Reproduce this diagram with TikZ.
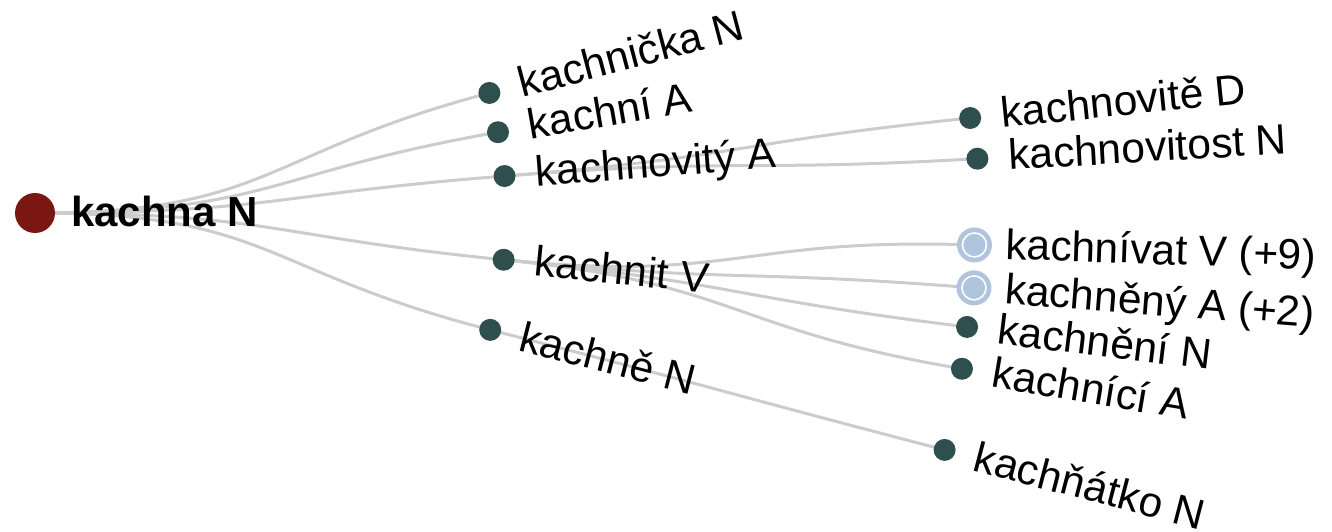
\documentclass[tikz,border=0pt]{standalone}
\usepackage{fontspec}
\setmainfont{Liberation Sans}
\usetikzlibrary{calc}
\definecolor{dotc}{HTML}{2F4F4F}
\definecolor{rootc}{HTML}{7A1712}
\definecolor{edgec}{HTML}{CCCCCC}
\definecolor{collc}{HTML}{B0C4DE}
\tikzset{
  dotnode/.style={circle, fill=dotc, minimum size=22pt, inner sep=0pt},
  rootnode/.style={circle, fill=rootc, minimum size=40pt, inner sep=0pt},
  collnode/.style={circle, fill=collc, minimum size=35pt, inner sep=0pt},
  edge/.style={draw=edgec, line width=3pt},
  lab/.style={anchor=base west, inner sep=0pt, font=\fontsize{42.5}{50}\selectfont, text=black},
}
% radial placement: name, angle (image, up positive), radius
\newcommand{\rplace}[3]{\coordinate (#1) at ($(r)+(-#2:#3)$);}
% radial link: from, to, angle from, angle to, mid radius
\newcommand{\rlink}[5]{\draw[edge] (#1) .. controls ($(r)+(-#3:#5)$) and ($(r)+(-#4:#5)$) .. (#2);}
% label: node, angle, text, name
\newcommand{\rlabel}[4]{\node[lab, rotate=#2] (#4) at ($(#1)+(-#2:31)+(90-#2:13)$) {#3};}
\begin{document}
\begin{tikzpicture}[x=1pt,y=-1pt]
\useasboundingbox (0,0) rectangle (1332,532);
\coordinate (r) at (35,213);
\rplace{c1}{14.8}{470}
\rplace{c2}{9.9}{470}
\rplace{c3}{4.5}{471}
\rplace{c4}{-5.7}{471}
\rplace{c5}{-14.4}{470}
\rplace{d1}{5.8}{940}
\rplace{d2}{3.3}{944}
\rplace{e1}{-1.95}{940}
\rplace{e2}{-4.56}{942}
\rplace{e3}{-6.97}{939}
\rplace{e4}{-9.54}{940}
\rplace{f1}{-14.6}{940}
% edges
\rlink{r}{c1}{0}{14.8}{235}
\rlink{r}{c2}{0}{9.9}{235}
\rlink{r}{c3}{0}{4.5}{235}
\rlink{r}{c4}{0}{-5.7}{235}
\rlink{r}{c5}{0}{-14.4}{235}
\rlink{c3}{d1}{4.5}{5.8}{705}
\rlink{c3}{d2}{4.5}{3.3}{705}
\rlink{c4}{e1}{-5.7}{-1.95}{705}
\rlink{c4}{e2}{-5.7}{-4.56}{705}
\rlink{c4}{e3}{-5.7}{-6.97}{705}
\rlink{c4}{e4}{-5.7}{-9.54}{705}
\rlink{c5}{f1}{-14.4}{-14.6}{705}
% nodes
\node[rootnode] (nr) at (r) {};
\foreach \n in {c1,c2,c3,c4,c5,d1,d2,e3,e4,f1} {\node[dotnode] (n\n) at (\n) {};}
\foreach \n in {e1,e2} {
  \node[collnode] (n\n) at (\n) {};
  \draw[white, line width=1.6pt] (\n) circle[radius=12pt];
}
% labels
\node[lab, font=\fontsize{42}{50}\selectfont\bfseries] (lr) at (71,226) {kachna N};
\rlabel{c1}{14.8}{kachnička N}{l1}
\rlabel{c2}{9.9}{kachní A}{l2}
\rlabel{c3}{4.5}{kachnovitý A}{l3}
\rlabel{c4}{-5.7}{kachnit V}{l4}
\rlabel{c5}{-14.4}{kachně N}{l5}
\rlabel{d1}{5.8}{kachnovitě D}{l6}
\rlabel{d2}{3.3}{kachnovitost N}{l7}
\rlabel{e1}{-1.95}{kachnívat V (+9)}{l8}
\rlabel{e2}{-4.56}{kachněný A (+2)}{l9}
\rlabel{e3}{-6.97}{kachnění N}{l10}
\rlabel{e4}{-9.54}{kachnící A}{l11}
\rlabel{f1}{-14.6}{kachňátko N}{l12}
\end{tikzpicture}
\end{document}
